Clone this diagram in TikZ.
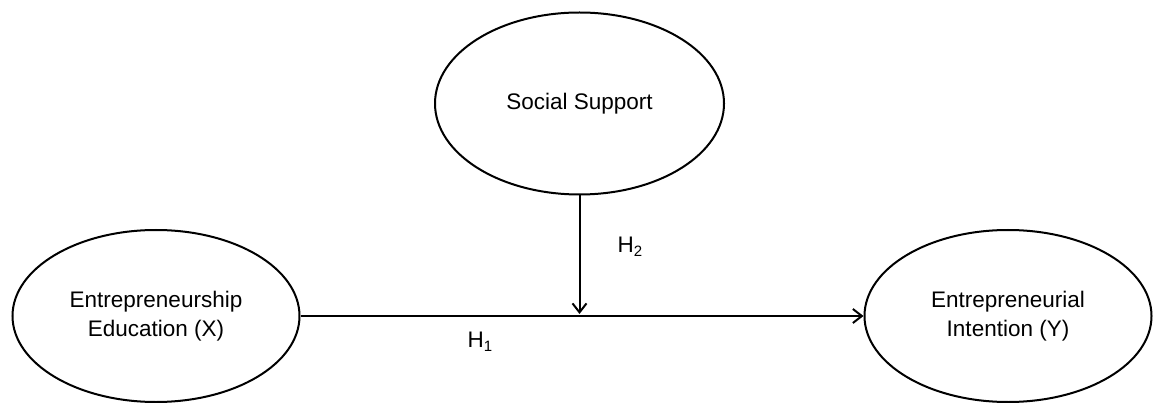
\documentclass[tikz,border=0pt]{standalone}
\usepackage{fontspec}
\setmainfont{Liberation Sans}
\usetikzlibrary{shapes.geometric,arrows.meta}
\begin{document}
\begin{tikzpicture}[x=1pt,y=-1pt,
  construct/.style={draw,ellipse,line width=2pt,inner sep=0pt,minimum width=287pt,minimum height=172pt,align=center,font=\fontsize{22.5}{28.5}\selectfont},
  link/.style={line width=2pt,-{Straight Barb[length=9pt,width=14pt,line width=2pt]}},
  hlabel/.style={font=\fontsize{22.5}{24}\selectfont}]
\useasboundingbox (0,0) rectangle (1153,403);
\node[construct] (ee) at (156,316) {Entrepreneurship\\Education (X)};
\node[construct] (ei) at (1008,316) {Entrepreneurial\\Intention (Y)};
\node[construct,minimum width=289pt,minimum height=182pt] (ss) at (579.5,103.5) {Social Support};
\draw[link] (ee.east) -- (ei.west);
\coordinate (mid) at (579.5,314);
\draw[link] (ss.south) -- (mid);
\node[hlabel] (h2) at (630,247) {H\raisebox{-0.35ex}{\fontsize{15}{15}\selectfont 2}};
\node[hlabel] (h1) at (480,342) {H\raisebox{-0.35ex}{\fontsize{15}{15}\selectfont 1}};
\end{tikzpicture}
\end{document}
